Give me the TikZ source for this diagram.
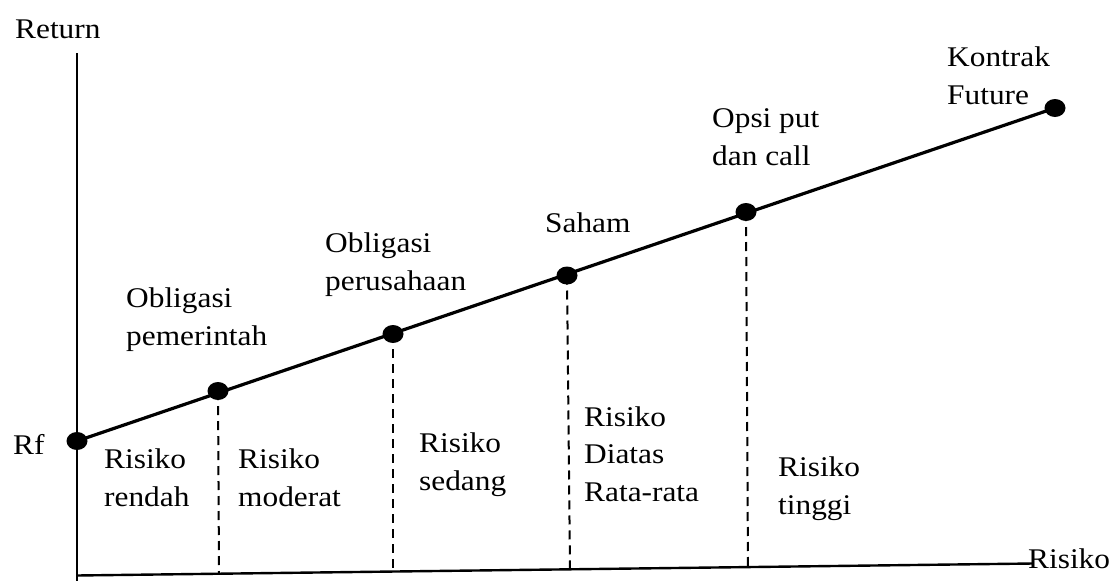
\documentclass[tikz,border=0pt]{standalone}
\usepackage{fontspec}
\setmainfont[FakeStretch=1.1]{Liberation Serif}
\usetikzlibrary{shapes.geometric}
\begin{document}
\begin{tikzpicture}[x=1pt,y=-1pt,
  lbl/.style={anchor=base west,inner sep=0pt,align=left,font=\fontsize{28.5}{37.5}\selectfont},
  dot/.style={ellipse,fill=black,minimum width=21pt,minimum height=18pt,inner sep=0pt},
  axis/.style={line width=2.4pt},
  mainline/.style={line width=3.2pt},
  guide/.style={line width=2pt,dash pattern=on 9pt off 6pt}]
\path[use as bounding box,fill=white] (0,0) rectangle (1112,581);
% axes
\coordinate (ytop) at (77,53);
\coordinate (ybot) at (77,581);
\coordinate (xl) at (77,575.5);
\coordinate (xr) at (1033,563.5);
\draw[axis] (ytop) -- (ybot);
\draw[axis] (xl) -- (xr);
% points
\coordinate (p0) at (77,441);
\coordinate (p1) at (218,391);
\coordinate (p2) at (393,334);
\coordinate (p3) at (567,275.5);
\coordinate (p4) at (746,212);
\coordinate (p5) at (1055,108);
\coordinate (b1) at (219,573.7);
\coordinate (b2) at (393,571.5);
\coordinate (b3) at (570,569.3);
\coordinate (b4) at (748,567.1);
\draw[guide] (p1) -- (b1);
\draw[guide] (p2) -- (b2);
\draw[guide] (p3) -- (b3);
\draw[guide] (p4) -- (b4);
\draw[mainline] (p0) -- (p5);
\node[dot] (rf) at (p0) {};
\node[dot] (og) at (p1) {};
\node[dot] (op) at (p2) {};
\node[dot] (sh) at (p3) {};
\node[dot] (opc) at (p4) {};
\node[dot] (kf) at (p5) {};
% labels (anchor = baseline of the last line)
\node[lbl] (tret) at (15,38) {Return};
\node[lbl] (trisk) at (1028,568) {Risiko};
\node[lbl] (trf) at (13,454) {Rf};
\node[lbl] (tog) at (126,345) {Obligasi\\pemerintah};
\node[lbl] (top) at (325,290) {Obligasi\\perusahaan};
\node[lbl] (tsh) at (545,232) {Saham};
\node[lbl] (topc) at (712,165) {Opsi put\\dan call};
\node[lbl] (tkf) at (947,104) {Kontrak\\Future};
\node[lbl] (r1) at (104,506) {Risiko\\rendah};
\node[lbl] (r2) at (238,506) {Risiko\\moderat};
\node[lbl] (r3) at (419,490) {Risiko\\sedang};
\node[lbl] (r4) at (584,501) {Risiko\\Diatas\\Rata-rata};
\node[lbl] (r5) at (778,514) {Risiko\\tinggi};
\end{tikzpicture}
\end{document}
